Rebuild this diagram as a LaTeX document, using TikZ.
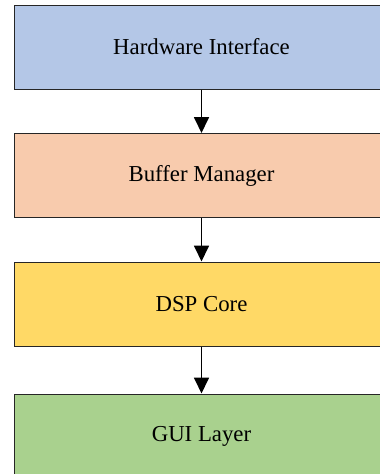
\documentclass[tikz,border=0pt]{standalone}
\usepackage{fontspec}
\setmainfont{Liberation Serif}
\newfontfamily\layerfont{Liberation Serif}
\usetikzlibrary{arrows.meta}
\definecolor{hwblue}{RGB}{180,199,231}
\definecolor{bufpeach}{RGB}{248,203,173}
\definecolor{dspgold}{RGB}{255,217,102}
\definecolor{guigreen}{RGB}{169,209,142}
\tikzset{
  layer/.style={draw=black!85, line width=1pt, rectangle, minimum width=375pt,
    minimum height=84pt, inner sep=0pt,
    font=\layerfont\fontsize{22.8}{27}\selectfont},
  flow/.style={line width=1.8pt, -{Triangle[width=15pt,length=16pt]}}
}
\begin{document}
\begin{tikzpicture}[x=1pt,y=-1pt]
  \useasboundingbox (0,0) rectangle (380,474);
  \clip (0,0) rectangle (380,474);
  \node[layer, fill=hwblue]   (hw)  at (201.5,47)  {Hardware Interface};
  \node[layer, fill=bufpeach] (buf) at (201.5,175.5) {Buffer Manager};
  \node[layer, fill=dspgold]  (dsp) at (201.5,304) {DSP Core};
  \node[layer, fill=guigreen] (gui) at (201.5,436) {GUI Layer};
  \draw[flow] (hw) -- (buf);
  \draw[flow] (buf) -- (dsp);
  \draw[flow] (dsp) -- (gui);
\end{tikzpicture}
\end{document}
